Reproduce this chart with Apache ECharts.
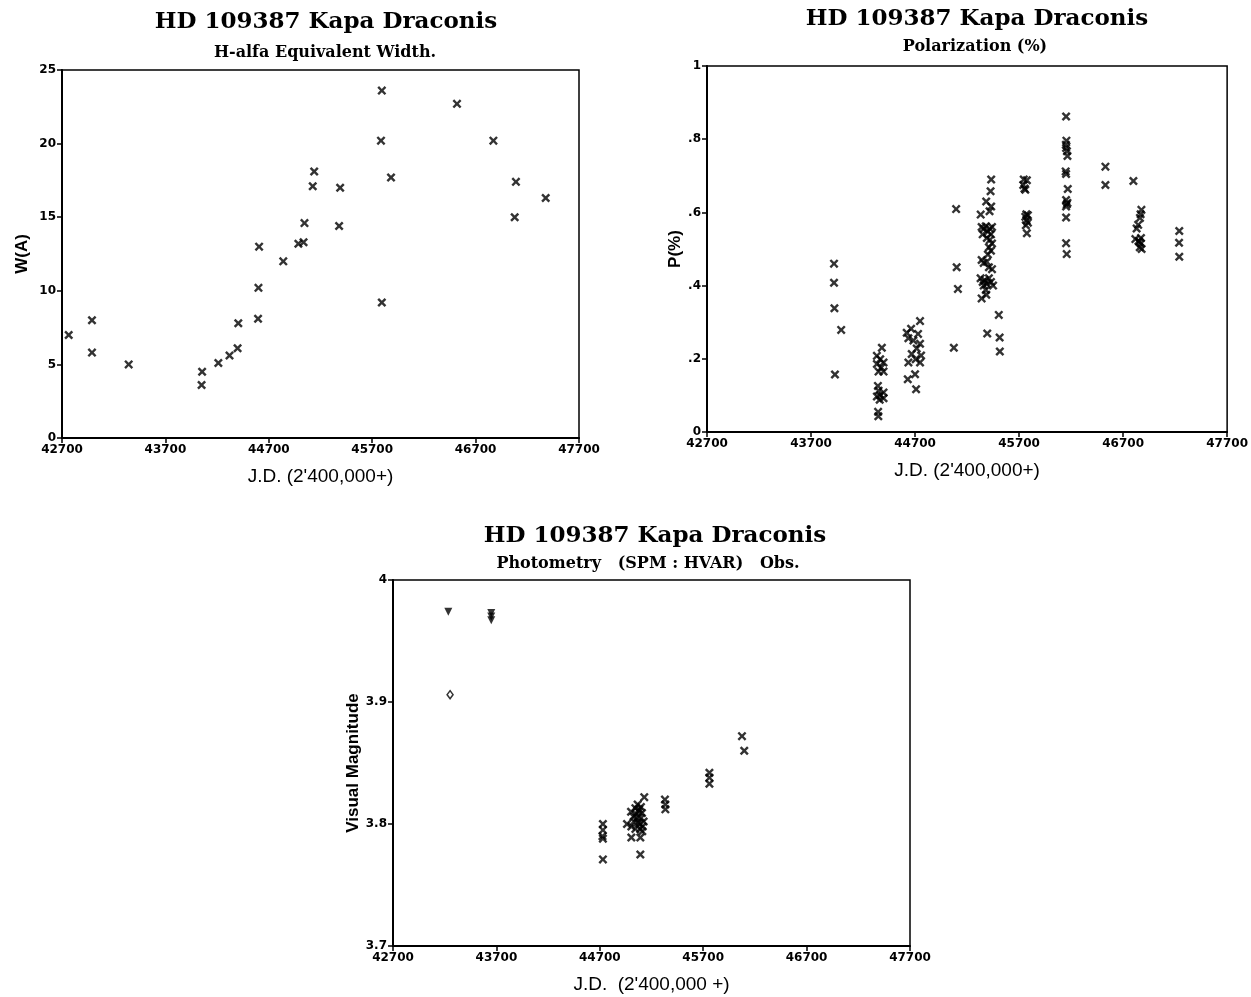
<!DOCTYPE html>
<html>
<head>
<meta charset="utf-8">
<script src="https://cdn.jsdelivr.net/npm/echarts@6/dist/echarts.min.js"></script>
<style>
html,body{margin:0;padding:0;background:#fff;}
#c{width:1251px;height:997px;}
</style>
</head>
<body>
<div id="c"></div>
<script>
// ---------- data ----------
var xTicks = [42700, 43700, 44700, 45700, 46700, 47700];
var ewTicks = [0, 5, 10, 15, 20, 25];
var polTicks = [0, 0.2, 0.4, 0.6, 0.8, 1];
var magTicks = [3.7, 3.8, 3.9, 4.0];

// H-alfa equivalent width [JD, W(A)]
var halfaEW = [
  [42765,7.0],[42990,8.0],[42990,5.8],[43345,5.0],[44055,4.5],[44050,3.6],
  [44212,5.1],[44320,5.6],[44398,6.1],[44405,7.8],[44596,8.1],[44600,10.2],
  [44606,13.0],[44840,12.0],[44986,13.2],[45036,13.3],[45045,14.6],[45125,17.1],
  [45139,18.1],[45390,17.0],[45380,14.4],[45793,23.6],[45785,20.2],[45793,9.2],
  [45882,17.7],[46520,22.7],[46872,20.2],[47090,17.4],[47078,15.0],[47378,16.3]
];

// Polarization [JD, P(%)]
var polarization = [
  [43921,0.460],[43921,0.408],[43925,0.338],[43930,0.157],[43990,0.279],
  [44381,0.230],[44333,0.208],[44365,0.199],[44397,0.190],[44333,0.186],[44375,0.176],
  [44349,0.165],[44397,0.165],[44343,0.126],[44349,0.113],[44397,0.108],[44365,0.100],
  [44333,0.097],[44397,0.092],[44360,0.088],[44345,0.055],[44347,0.043],
  [44748,0.303],[44662,0.282],[44620,0.271],[44729,0.268],[44636,0.256],[44684,0.250],
  [44748,0.241],[44716,0.228],[44668,0.213],[44758,0.209],[44706,0.199],[44636,0.190],
  [44748,0.190],[44700,0.158],[44630,0.144],[44710,0.117],
  [45095,0.609],[45100,0.450],[45112,0.391],[45073,0.230],
  [45432,0.690],[45426,0.658],[45384,0.630],[45432,0.616],[45416,0.603],[45331,0.594],
  [45340,0.560],[45360,0.555],[45380,0.562],[45400,0.548],[45420,0.555],[45440,0.560],
  [45430,0.540],[45350,0.540],[45390,0.530],[45420,0.525],[45440,0.515],[45410,0.505],
  [45430,0.495],[45400,0.485],[45340,0.470],[45360,0.462],[45390,0.465],[45410,0.450],
  [45440,0.445],[45330,0.420],[45350,0.410],[45370,0.415],[45390,0.405],[45410,0.420],
  [45430,0.410],[45450,0.400],[45360,0.400],[45380,0.388],[45340,0.365],[45385,0.375],
  [45394,0.269],
  [45505,0.320],[45513,0.258],[45515,0.220],
  [45745,0.690],[45775,0.688],[45740,0.675],[45760,0.662],[45752,0.665],[45770,0.595],
  [45785,0.592],[45760,0.588],[45772,0.578],[45785,0.572],[45765,0.565],[45775,0.543],
  [46152,0.862],[46155,0.796],[46150,0.785],[46152,0.776],[46160,0.767],[46165,0.754],
  [46148,0.712],[46152,0.705],[46168,0.664],[46152,0.634],[46165,0.626],[46152,0.616],
  [46158,0.622],[46152,0.586],[46152,0.516],[46158,0.486],
  [46530,0.725],[46530,0.675],
  [46799,0.686],[46876,0.607],[46868,0.595],[46862,0.585],[46845,0.566],[46830,0.556],
  [46818,0.527],[46848,0.522],[46870,0.515],[46860,0.505],[46878,0.500],[46872,0.530],
  [46855,0.520],
  [47240,0.549],[47238,0.517],[47240,0.479]
];

// Photometry [JD, V mag]
var photCross = [
  [44730,3.800],[44730,3.795],[44726,3.790],[44730,3.788],[44730,3.771],
  [45130,3.822],[45066,3.816],[45098,3.814],[45044,3.813],[45002,3.810],[45076,3.810],
  [45108,3.809],[45027,3.806],[45059,3.805],[45124,3.802],[44963,3.800],[45005,3.798],
  [45086,3.800],[45044,3.796],[45111,3.794],[45005,3.789],[45092,3.789],[45092,3.775],
  [45080,3.812],[45050,3.808],[45100,3.805],[45070,3.801],[45115,3.798],[45030,3.802],
  [45090,3.796],
  [45330,3.820],[45334,3.816],[45334,3.812],
  [45760,3.842],[45760,3.838],[45760,3.833],
  [46075,3.872],[46097,3.860]
];
var photTriangle = [[43235,3.974],[43650,3.973],[43650,3.970],[43650,3.967]];
var photDiamond = [[43252,3.906]];

// ---------- chart ----------
var CROSS = 'path://M0,1.9L1.9,0L5,3.1L8.1,0L10,1.9L6.9,5L10,8.1L8.1,10L5,6.9L1.9,10L0,8.1L3.1,5Z';
var TRI = 'path://M0,0L10,0L5,10Z';
var tickFont = {fontFamily:'DejaVu Sans', fontWeight:'bold', fontSize:12, color:'#000'};
var nameFont = {fontFamily:'Liberation Sans', fontSize:19, color:'#000'};

function xAx(gi){
  return {
    type:'value', gridIndex:gi, min:42700, max:47700,
    name: gi===2 ? "J.D.  (2'400,000 +)" : "J.D. (2'400,000+)",
    nameLocation:'middle', nameGap:29, nameTextStyle:nameFont,
    axisLine:{show:true, lineStyle:{color:'#000', width:2}},
    axisTick:{show:true, inside:false, length:5, lineStyle:{color:'#000', width:1.5}, customValues:xTicks},
    axisLabel:Object.assign({margin:6, customValues:xTicks, formatter:function(v){return String(v);}}, tickFont),
    splitLine:{show:false}
  };
}
function yAx(gi, mn, mx, ticks, name, gap, fmt){
  return {
    type:'value', gridIndex:gi, min:mn, max:mx,
    name:name, nameLocation:'middle', nameGap:gap, nameRotate:90,
    nameTextStyle:Object.assign({}, nameFont, {fontSize:17, fontWeight:'bold'}),
    axisLine:{show:true, lineStyle:{color:'#000', width:2}},
    axisTick:{show:true, inside:false, length:5, lineStyle:{color:'#000', width:1.5}, customValues:ticks},
    axisLabel:Object.assign({margin:6, customValues:ticks, formatter:fmt}, tickFont),
    splitLine:{show:false}
  };
}
function titleText(x, y, txt, font){
  return {type:'text', x:x, y:y, style:{text:txt, font:font, fill:'#000', textAlign:'center', textVerticalAlign:'middle'}};
}
var TF = 'bold 23px "DejaVu Serif"';
var SF = 'bold 16px "DejaVu Serif"';

var option = {
  backgroundColor:'#fff',
  animation:false,
  graphic:[
    titleText(326, 22, 'HD 109387 Kapa Draconis', TF),
    titleText(325, 53, 'H-alfa Equivalent Width.', SF),
    titleText(977, 19, 'HD 109387 Kapa Draconis', TF),
    titleText(975, 47, 'Polarization (%)', SF),
    titleText(655, 536, 'HD 109387 Kapa Draconis', TF),
    titleText(648, 564, 'Photometry   (SPM : HVAR)   Obs.', SF)
  ],
  grid:[
    {left:62, top:70, width:517, height:368, show:true, borderColor:'#000', borderWidth:1.5, backgroundColor:'transparent'},
    {left:707, top:66, width:522, height:366, show:true, borderColor:'#000', borderWidth:1.5, backgroundColor:'transparent'},
    {left:393, top:580, width:517, height:366, show:true, borderColor:'#000', borderWidth:1.5, backgroundColor:'transparent'}
  ],
  xAxis:[xAx(0), xAx(1), xAx(2)],
  yAxis:[
    yAx(0, 0, 25, ewTicks, 'W(A)', 31, function(v){return String(Math.round(v));}),
    yAx(1, 0, 1, polTicks, 'P(%)', 18, function(v){var r=Math.round(v*10)/10; if(r===0) return '0'; if(r===1) return '1'; return String(r).replace(/^0/, '');}),
    yAx(2, 3.7, 4.0, magTicks, 'Visual Magnitude', 31, function(v){var r=Math.round(v*10)/10; return r===4 ? '4' : r.toFixed(1);})
  ],
  series:[
    {type:'scatter', xAxisIndex:0, yAxisIndex:0, data:halfaEW, symbol:CROSS, symbolSize:9, itemStyle:{color:'#000'}},
    {type:'scatter', xAxisIndex:1, yAxisIndex:1, data:polarization, symbol:CROSS, symbolSize:9, itemStyle:{color:'#000'}},
    {type:'scatter', xAxisIndex:2, yAxisIndex:2, data:photCross, symbol:CROSS, symbolSize:9, itemStyle:{color:'#000'}},
    {type:'scatter', xAxisIndex:2, yAxisIndex:2, data:photTriangle, symbol:TRI, symbolSize:8, itemStyle:{color:'#000'}},
    {type:'scatter', xAxisIndex:2, yAxisIndex:2, data:photDiamond, symbol:'diamond', symbolSize:[6,8], itemStyle:{color:'#fff', borderColor:'#000', borderWidth:1.5}}
  ]
};
var chart = echarts.init(document.getElementById('c'), null, {renderer:'canvas'});
chart.setOption(option);
</script>
</body>
</html>
